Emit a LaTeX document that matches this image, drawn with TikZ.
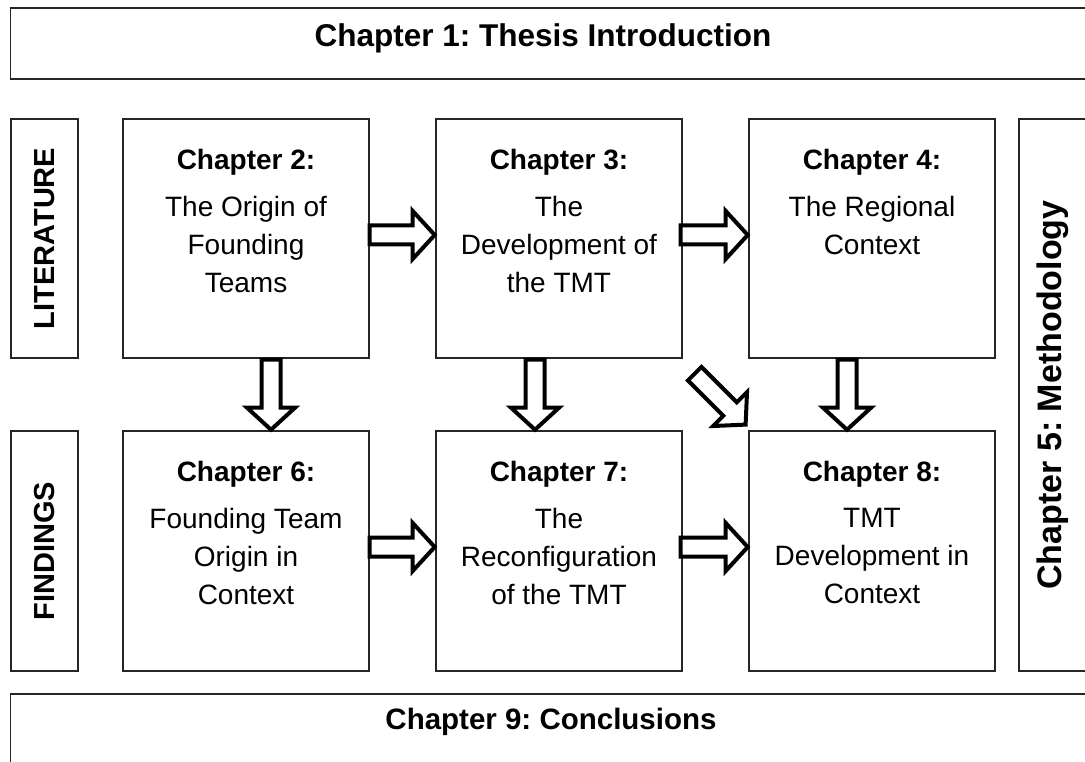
\documentclass[tikz,border=0pt]{standalone}
\usepackage{fontspec}
\setmainfont{Liberation Sans}
\usetikzlibrary{calc}
\frenchspacing

\tikzset{
  frame/.style={draw=black!85, line width=1.4pt, fill=none, inner sep=0pt},
  heading/.style={font=\fontsize{28}{38}\selectfont\bfseries, inner sep=0pt},
  body/.style={font=\fontsize{28}{38}\selectfont, align=center, inner sep=0pt, anchor=north},
  side/.style={font=\fontsize{29}{34}\selectfont\bfseries, inner sep=0pt, rotate=90},
  blockarrow/.style={draw=black, line width=4pt, fill=white, line join=miter},
  pics/barrow/.style={code={
    \draw[blockarrow] (0,-9.5) -- (#1-22,-9.5) -- (#1-22,-24) -- (#1,0)
      -- (#1-22,24) -- (#1-22,9.5) -- (0,9.5) -- cycle;
  }}
}

\begin{document}
\begin{tikzpicture}[x=1pt,y=-1pt]
  \useasboundingbox (0,0) rectangle (1085,762);
  \clip (0,0) rectangle (1085,762);

  % frames
  \node[frame] (c1) at (550,43.5) [minimum width=1079pt, minimum height=71pt] {};
  \node[frame] (lit)  at (44.5,238.5) [minimum width=67pt, minimum height=239pt] {};
  \node[frame] (find) at (44.5,551)   [minimum width=67pt, minimum height=240pt] {};
  \node[frame] (c2) at (246,238.5) [minimum width=246pt, minimum height=239pt] {};
  \node[frame] (c3) at (559,238.5) [minimum width=246pt, minimum height=239pt] {};
  \node[frame] (c4) at (872,238.5) [minimum width=246pt, minimum height=239pt] {};
  \node[frame] (c6) at (246,551) [minimum width=246pt, minimum height=240pt] {};
  \node[frame] (c7) at (559,551) [minimum width=246pt, minimum height=240pt] {};
  \node[frame] (c8) at (872,551) [minimum width=246pt, minimum height=240pt] {};
  \node[frame] (c5) at (1052.5,395) [minimum width=67pt, minimum height=552pt] {};
  \node[frame] (c9) at (550,732) [minimum width=1079pt, minimum height=76pt] {};

  % titles of the wide frames
  \node[heading, font=\fontsize{31.5}{38}\selectfont\bfseries] (t1) at (543,38) {Chapter 1: Thesis Introduction};
  \node[heading, font=\fontsize{29.5}{38}\selectfont\bfseries] (t9) at (551,722) {Chapter 9: Conclusions};
  \node[side, font=\fontsize{34}{38}\selectfont\bfseries] (t5) at (c5.center) {Chapter 5: Methodology};
  \node[side] (tl) at (lit.center) {LITERATURE};
  \node[side] (tf) at (find.center) {FINDINGS};

  % chapter headings and descriptions
  \foreach \b/\n in {c2/2, c3/3, c4/4, c6/6, c7/7, c8/8}{
    \node[heading, anchor=north] (h\n) at ($(\b.north)+(0,31)$) {Chapter \n:};
  }
  \node[body] (d2) at ($(c2.north)+(0,78)$) {The Origin of\\Founding\\Teams};
  \node[body] (d3) at ($(c3.north)+(0,78)$) {The\\Development of\\the TMT};
  \node[body] (d4) at ($(c4.north)+(0,78)$) {The Regional\\Context};
  \node[body] (d6) at ($(c6.north)+(0,78)$) {Founding Team\\Origin in\\Context};
  \node[body] (d7) at ($(c7.north)+(0,78)$) {The\\Reconfiguration\\of the TMT};
  \node[body] (d8) at ($(c8.north)+(0,78)$) {TMT\\Development in\\Context};

  % block arrows between chapters
  \pic at ($(c2.east)+(0,-3.5)$) {barrow=65};
  \pic at ($(c3.east)+(-2,-3.5)$) {barrow=67};
  \pic at ($(c6.east)+(0,-4)$) {barrow=65};
  \pic at ($(c7.east)+(-2,-4)$) {barrow=67};
  \pic[rotate=-90] at ($(c2.south)+(25,1)$) {barrow=70};
  \pic[rotate=-90] at ($(c3.south)+(-24,1)$) {barrow=70};
  \pic[rotate=-90] at ($(c4.south)+(-25,1)$) {barrow=70};
  \pic[rotate=-45] at ($(c3.south east)+(12,15)$) {barrow=72};
\end{tikzpicture}
\end{document}
